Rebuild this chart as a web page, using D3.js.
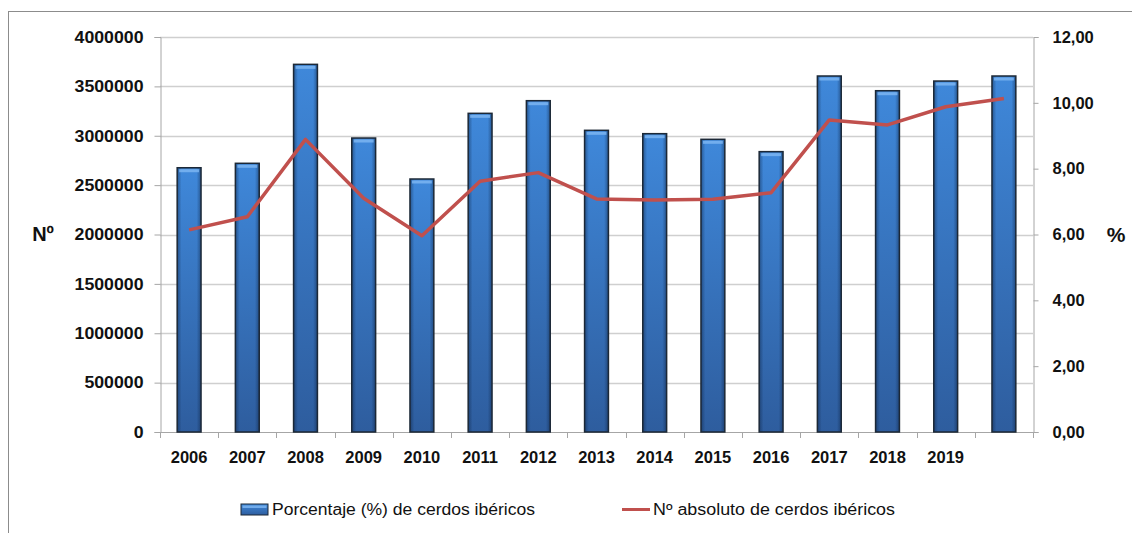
<!DOCTYPE html>
<html>
<head>
<meta charset="utf-8">
<script src="https://cdn.jsdelivr.net/npm/d3@7"></script>
<style>
  body { margin: 0; background: #fff; }
  text { font-family: "Liberation Sans", sans-serif; }
</style>
</head>
<body>
<script>
// years on the x axis (last band has no label in the original)
var years = ["2006", "2007", "2008", "2009", "2010", "2011", "2012", "2013", "2014", "2015", "2016", "2017", "2018", "2019", "2020"];
var yearLabels = ["2006", "2007", "2008", "2009", "2010", "2011", "2012", "2013", "2014", "2015", "2016", "2017", "2018", "2019", ""];
// bars, left axis
var barValues = [2676000, 2721000, 3723000, 2977000, 2562000, 3227000, 3355000, 3055000, 3021000, 2964000, 2839000, 3605000, 3456000, 3554000, 3605000];
// line, right axis
var lineValues = [6.14, 6.54, 8.89, 7.10, 5.96, 7.62, 7.88, 7.08, 7.05, 7.07, 7.27, 9.48, 9.33, 9.88, 10.13];
var leftTicks = [0, 500000, 1000000, 1500000, 2000000, 2500000, 3000000, 3500000, 4000000];
var rightTicks = [0, 2, 4, 6, 8, 10, 12];
var barName = "Porcentaje (%) de cerdos ibéricos";
var lineName = "Nº absoluto de cerdos ibéricos";

var width = 1132, height = 533;
var plotLeft = 160, plotRight = 1033, plotTop = 37, plotBottom = 432;

var svg = d3.select("body").append("svg")
  .attr("width", width)
  .attr("height", height);

var defs = svg.append("defs");
var grad = defs.append("linearGradient").attr("id", "barGrad")
  .attr("x1", 0).attr("y1", 0).attr("x2", 0).attr("y2", 1);
grad.append("stop").attr("offset", "0%").attr("stop-color", "#3f88da");
grad.append("stop").attr("offset", "100%").attr("stop-color", "#2e5d9e");
var side = defs.append("linearGradient").attr("id", "sideGrad")
  .attr("x1", 0).attr("y1", 0).attr("x2", 1).attr("y2", 0);
side.append("stop").attr("offset", "0%").attr("stop-color", "#0a1e3c").attr("stop-opacity", 0.45);
side.append("stop").attr("offset", "18%").attr("stop-color", "#0a1e3c").attr("stop-opacity", 0);
side.append("stop").attr("offset", "82%").attr("stop-color", "#0a1e3c").attr("stop-opacity", 0);
side.append("stop").attr("offset", "100%").attr("stop-color", "#0a1e3c").attr("stop-opacity", 0.45);

// outer frame (runs off the right and bottom edge)
svg.append("rect")
  .attr("x", 8.5).attr("y", 11.5)
  .attr("width", 1200).attr("height", 600)
  .attr("fill", "none").attr("stroke", "#8c8c8c").attr("stroke-width", 1);

var x = d3.scaleBand().domain(years).range([plotLeft, plotRight]).paddingInner(0.59).paddingOuter(0.295);
var xb = d3.scaleBand().domain(years).range([plotLeft, plotRight]);
var y = d3.scaleLinear().domain([0, 4000000]).range([plotBottom, plotTop]);
var y2 = d3.scaleLinear().domain([0, 12]).range([plotBottom, plotTop]);

// gridlines
svg.append("g").selectAll("line").data(leftTicks.slice(1)).join("line")
  .attr("x1", plotLeft).attr("x2", plotRight)
  .attr("y1", d => Math.round(y(d)) + 0.5).attr("y2", d => Math.round(y(d)) + 0.5)
  .attr("stroke", "#cfcfcf").attr("stroke-width", 1.3);

// left axis
var yAxis = svg.append("g")
  .attr("transform", "translate(" + (plotLeft + 0.5) + ",0)")
  .call(d3.axisLeft(y).tickValues(leftTicks).tickSize(6).tickPadding(11).tickFormat(d3.format("d")));
yAxis.select(".domain").attr("stroke", "#a6a6a6");
yAxis.selectAll(".tick line").attr("stroke", "#a6a6a6");
yAxis.selectAll("text").attr("font-size", 16.5).attr("font-weight", "bold").attr("fill", "#111")
  .attr("font-family", "Liberation Sans")
  .attr("textLength", function() { return this.textContent.length * 9.85; })
  .attr("lengthAdjust", "spacingAndGlyphs");

// right axis
var yAxis2 = svg.append("g")
  .attr("transform", "translate(" + (plotRight + 0.5) + ",0)")
  .call(d3.axisRight(y2).tickValues(rightTicks).tickSize(5).tickPadding(14)
    .tickFormat(d => d3.format(".2f")(d).replace(".", ",")));
yAxis2.select(".domain").attr("stroke", "#a6a6a6");
yAxis2.selectAll(".tick line").attr("stroke", "#a6a6a6");
yAxis2.selectAll("text").attr("font-size", 16.5).attr("font-weight", "bold").attr("fill", "#111")
  .attr("font-family", "Liberation Sans");

// x axis: baseline, ticks at band edges, labels at band centers
var xg = svg.append("g");
xg.append("line").attr("x1", plotLeft).attr("x2", plotRight)
  .attr("y1", plotBottom + 0.5).attr("y2", plotBottom + 0.5).attr("stroke", "#a6a6a6");
xg.selectAll("line.tk").data(years.concat(["end"])).join("line").attr("class", "tk")
  .attr("x1", (d, i) => Math.round(plotLeft + i * xb.step()) + 0.5)
  .attr("x2", (d, i) => Math.round(plotLeft + i * xb.step()) + 0.5)
  .attr("y1", plotBottom).attr("y2", plotBottom + 6)
  .attr("stroke", "#a6a6a6");
xg.selectAll("text").data(years).join("text")
  .attr("x", d => xb(d) + xb.bandwidth() / 2)
  .attr("y", 463)
  .attr("text-anchor", "middle")
  .attr("font-size", 16.5).attr("font-weight", "bold").attr("fill", "#111")
  .text((d, i) => yearLabels[i]);

// bars
var bars = svg.append("g");
bars.selectAll("rect.bar").data(barValues).join("rect").attr("class", "bar")
  .attr("x", (d, i) => x(years[i]))
  .attr("y", d => y(d))
  .attr("width", x.bandwidth())
  .attr("height", d => plotBottom - y(d))
  .attr("fill", "url(#barGrad)");
bars.selectAll("rect.shade").data(barValues).join("rect").attr("class", "shade")
  .attr("x", (d, i) => x(years[i]))
  .attr("y", d => y(d))
  .attr("width", x.bandwidth())
  .attr("height", d => plotBottom - y(d))
  .attr("fill", "url(#sideGrad)");
bars.selectAll("rect.hi").data(barValues).join("rect").attr("class", "hi")
  .attr("x", (d, i) => x(years[i]) + 2)
  .attr("y", d => y(d) + 1.5)
  .attr("width", x.bandwidth() - 4)
  .attr("height", 3)
  .attr("fill", "#7fb8f2").attr("opacity", 0.8);
bars.selectAll("rect.edge").data(barValues).join("rect").attr("class", "edge")
  .attr("x", (d, i) => x(years[i]))
  .attr("y", d => y(d))
  .attr("width", x.bandwidth())
  .attr("height", d => plotBottom - y(d))
  .attr("fill", "none").attr("stroke", "#1c2836").attr("stroke-width", 1.5);

// line
var line = d3.line()
  .x((d, i) => xb(years[i]) + xb.bandwidth() / 2)
  .y(d => y2(d));
svg.append("path").datum(lineValues)
  .attr("d", line)
  .attr("fill", "none")
  .attr("stroke", "#c0504d")
  .attr("stroke-width", 3.5)
  .attr("stroke-linejoin", "round");

// axis titles
svg.append("text").attr("x", 43).attr("y", 241).attr("text-anchor", "middle")
  .attr("font-size", 20).attr("font-weight", "bold").attr("fill", "#111").text("Nº");
svg.append("text").attr("x", 1116).attr("y", 242).attr("text-anchor", "middle")
  .attr("font-size", 21).attr("font-weight", "bold").attr("fill", "#111").text("%");

// legend
var lg = svg.append("g");
lg.append("rect").attr("x", 241).attr("y", 504).attr("width", 27).attr("height", 11)
  .attr("fill", "url(#barGrad)").attr("stroke", "#1c2836").attr("stroke-width", 1);
lg.append("rect").attr("x", 242.5).attr("y", 505.5).attr("width", 24).attr("height", 2.5)
  .attr("fill", "#7fb8f2").attr("opacity", 0.8);
lg.append("text").attr("x", 272).attr("y", 515)
  .attr("font-family", "Open Sans").attr("font-size", 16).attr("fill", "#111")
  .attr("textLength", 263).attr("lengthAdjust", "spacingAndGlyphs")
  .text(barName);
lg.append("line").attr("x1", 622).attr("x2", 650).attr("y1", 509.5).attr("y2", 509.5)
  .attr("stroke", "#c0504d").attr("stroke-width", 3);
lg.append("text").attr("x", 653).attr("y", 515)
  .attr("font-family", "Open Sans").attr("font-size", 16).attr("fill", "#111")
  .attr("textLength", 242).attr("lengthAdjust", "spacingAndGlyphs")
  .text(lineName);
</script>
</body>
</html>
